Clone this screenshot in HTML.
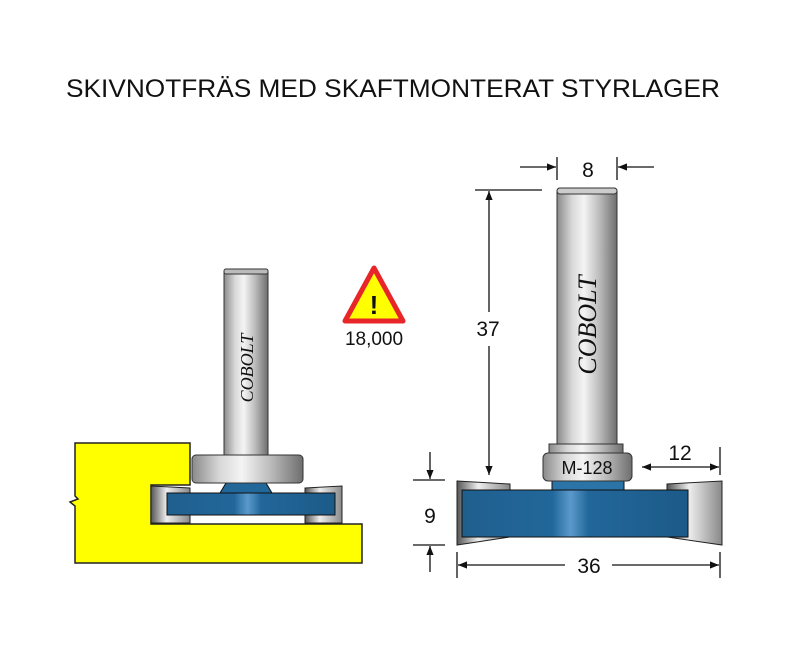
<!DOCTYPE html>
<html><head><meta charset="utf-8"><style>
html,body{margin:0;padding:0;background:#fff;width:800px;height:652px;overflow:hidden}
</style></head><body>
<svg width="800" height="652" viewBox="0 0 800 652" xmlns="http://www.w3.org/2000/svg" font-family="Liberation Sans, sans-serif">
<defs>
<linearGradient id="steel" x1="0" x2="1" y1="0" y2="0">
<stop offset="0" stop-color="#8a8a8a"/><stop offset="0.25" stop-color="#d8d8d8"/><stop offset="0.45" stop-color="#f4f4f4"/><stop offset="0.7" stop-color="#bdbdbd"/><stop offset="1" stop-color="#6e6e6e"/>
</linearGradient>
<linearGradient id="blue" x1="0" x2="1" y1="0" y2="0">
<stop offset="0" stop-color="#1f5f8e"/><stop offset="0.4" stop-color="#22679a"/><stop offset="0.48" stop-color="#5a9acb"/><stop offset="0.56" stop-color="#22679a"/><stop offset="1" stop-color="#1c5a88"/>
</linearGradient>
<linearGradient id="cut" x1="0" x2="1" y1="0" y2="0">
<stop offset="0" stop-color="#555"/><stop offset="0.4" stop-color="#eee"/><stop offset="1" stop-color="#888"/>
</linearGradient>
<marker id="ar" viewBox="0 0 10 10" refX="10" refY="5" markerWidth="9" markerHeight="9" orient="auto-start-reverse" markerUnits="userSpaceOnUse"><path d="M0,1 L10,5 L0,9 z" fill="#111"/></marker>
</defs>

<text x="393" y="97" font-size="25" text-anchor="middle" textLength="654" lengthAdjust="spacingAndGlyphs" fill="#111">SKIVNOTFRÄS MED SKAFTMONTERAT STYRLAGER</text>

<!-- LEFT FIGURE -->
<path d="M75,443 L190,443 L190,485 L151,485 L151,524 L362,524 L362,563 L75,563 L75,506 L70,502 L78,499 L75,496 Z" fill="#ffff00" stroke="#222" stroke-width="1.5"/>
<rect x="224" y="269" width="44" height="188" rx="3" fill="url(#steel)" stroke="#333"/>
<rect x="224" y="269" width="44" height="5" rx="2" fill="#bbb" stroke="#333"/>
<text transform="translate(253,368) rotate(-90)" style="font-family:'Liberation Serif',serif;font-style:italic" font-size="18" text-anchor="middle" fill="#111">COBOLT</text>
<path d="M151,486 L190,488 L190,523 L151,523 Z" fill="url(#cut)" stroke="#222"/>
<path d="M305,488 L342,486 L342,523 L305,523 Z" fill="url(#cut)" stroke="#222"/>
<rect x="167" y="493" width="168" height="22" fill="url(#blue)" stroke="#111"/>
<path d="M226,483 L266,483 L272,493 L220,493 Z" fill="#22679a" stroke="#111"/>
<rect x="192" y="455" width="111" height="28" rx="4" fill="url(#steel)" stroke="#333"/>

<!-- warning -->
<path d="M374,268 L403,321 L345,321 Z" fill="#ffff00" stroke="#e8262a" stroke-width="5" stroke-linejoin="round"/>
<text x="374" y="314" font-size="26" font-weight="bold" text-anchor="middle" fill="#111">!</text>
<text x="374" y="345" font-size="19" text-anchor="middle" fill="#111">18,000</text>

<!-- RIGHT FIGURE -->
<rect x="557" y="188" width="60" height="260" rx="3" fill="url(#steel)" stroke="#333"/>
<rect x="557" y="188" width="60" height="6" rx="3" fill="#ccc" stroke="#333"/>
<text transform="translate(596,325) rotate(-90)" style="font-family:'Liberation Serif',serif;font-style:italic" font-size="26" text-anchor="middle" fill="#111">COBOLT</text>
<path d="M457,481 L510,484 L510,537 L457,545 Z" fill="url(#cut)" stroke="#222"/>
<path d="M667,484 L722,481 L722,545 L667,537 Z" fill="url(#cut)" stroke="#222"/>
<rect x="462" y="490" width="226" height="47" fill="url(#blue)" stroke="#111"/>
<rect x="552" y="480" width="72" height="10" fill="#2a74a8" stroke="#111"/>
<rect x="549" y="444" width="74" height="10" fill="url(#steel)" stroke="#333"/>
<rect x="543" y="453" width="89" height="28" rx="5" fill="url(#steel)" stroke="#333"/>
<text x="587" y="474" font-size="18" text-anchor="middle" fill="#111">M-128</text>

<g stroke="#111" stroke-width="1.3" fill="none">
<line x1="557" y1="157" x2="557" y2="180"/><line x1="617" y1="157" x2="617" y2="180"/>
<line x1="520" y1="167" x2="556" y2="167" marker-end="url(#ar)"/>
<line x1="654" y1="167" x2="618" y2="167" marker-end="url(#ar)"/>
<line x1="475" y1="190" x2="542" y2="190"/>
<line x1="489" y1="312" x2="489" y2="191" marker-end="url(#ar)"/>
<line x1="489" y1="346" x2="489" y2="475" marker-end="url(#ar)"/>
<line x1="720" y1="447" x2="720" y2="475"/>
<line x1="642" y1="467" x2="719" y2="467" marker-start="url(#ar)" marker-end="url(#ar)"/>
<line x1="413" y1="480" x2="445" y2="480"/><line x1="413" y1="545" x2="445" y2="545"/>
<line x1="430" y1="452" x2="430" y2="479" marker-end="url(#ar)"/>
<line x1="430" y1="572" x2="430" y2="546" marker-end="url(#ar)"/>
<line x1="457" y1="552" x2="457" y2="578"/><line x1="720" y1="552" x2="720" y2="578"/>
<line x1="458" y1="565" x2="565" y2="565" marker-start="url(#ar)"/>
<line x1="612" y1="565" x2="719" y2="565" marker-end="url(#ar)"/>
</g>
<text x="588" y="177" font-size="21" text-anchor="middle" fill="#111">8</text>
<text x="488" y="336" font-size="21" text-anchor="middle" fill="#111">37</text>
<text x="680" y="460" font-size="21" text-anchor="middle" fill="#111">12</text>
<text x="430" y="523" font-size="21" text-anchor="middle" fill="#111">9</text>
<text x="589" y="573" font-size="21" text-anchor="middle" fill="#111">36</text>
</svg>
</body></html>
